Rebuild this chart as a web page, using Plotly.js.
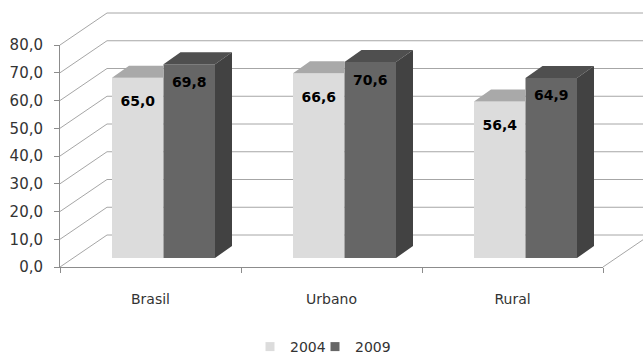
<!DOCTYPE html>
<html>
<head>
<meta charset="utf-8">
<script src="https://cdn.plot.ly/plotly-3.0.1.min.js"></script>
<style>html,body{margin:0;padding:0;background:#fff;}#chart{width:643px;height:356px;}</style>
</head>
<body>
<div id="chart"></div>
<script>
// ---- data ----
const categories = ['Brasil', 'Urbano', 'Rural'];
const seriesNames = ['2004', '2009'];
const values2004 = [65.0, 66.6, 56.4];
const values2009 = [69.8, 70.6, 64.9];
const yTickVals = [0, 10, 20, 30, 40, 50, 60, 70, 80];

// ---- geometry (pixels) ----
const W = 643, H = 356;
const PX0 = 163.5, SX = 181;      // bar plane: category 0 centre, px per category
const PY0 = 258, SY = 2.775;      // bar plane: y of value 0, px per unit
const FX = -13 / SX, FY = -9 / SY;   // front plane offset
const BX = 34 / SX, BY = 23 / SY;    // back wall offset
const DX = 17 / SX, DY = 12 / SY;    // bar depth
const BW = 51.5 / SX;               // bar width (data units)

const idx = categories.map((c, i) => i);
const fmt = v => v.toFixed(1).replace('.', ',');

const colFront04 = '#dcdcdc', colTop04 = '#a9a9a9';
const colFront09 = '#666666', colTop09 = '#4f4f4f', colSide09 = '#424242';
const gridCol = '#a6a6a6', axisCol = '#8c8c8c', textCol = '#333333';
const FONT = 'DejaVu Sans, sans-serif';

// ---- 3D faces built from the values ----
function polys(list) {
  const x = [], y = [];
  list.forEach(p => { p.forEach(pt => { x.push(pt[0]); y.push(pt[1]); }); x.push(null); y.push(null); });
  return {x, y};
}
const top04 = polys(idx.map(i => {
  const v = values2004[i], x0 = i - BW;
  return [[x0, v], [i, v], [i, v + DY], [x0 + DX, v + DY]];
}));
const top09 = polys(idx.map(i => {
  const v = values2009[i], x1 = i + BW;
  return [[i, v], [x1, v], [x1 + DX, v + DY], [i + DX, v + DY]];
}));
const side09 = polys(idx.map(i => {
  const v = values2009[i], x1 = i + BW;
  return [[x1, 0], [x1, v], [x1 + DX, v + DY], [x1 + DX, DY]];
}));
function face(p, col) {
  return {type: 'scatter', mode: 'lines', x: p.x, y: p.y, fill: 'toself', fillcolor: col,
    line: {width: 0, color: col}, showlegend: false, hoverinfo: 'skip', xaxis: 'x', yaxis: 'y'};
}
function legendKey(name, col, lg) {
  return {type: 'scatter', mode: 'markers', name: name, x: [null], y: [null], legend: lg,
    marker: {symbol: 'square', size: 9, color: col}, hoverinfo: 'skip', xaxis: 'x', yaxis: 'y'};
}

const traces = [
  {type: 'bar', name: seriesNames[0], x: idx, y: values2004, marker: {color: colFront04}, hoverinfo: 'skip', showlegend: false, xaxis: 'x', yaxis: 'y'},
  {type: 'bar', name: seriesNames[1], x: idx, y: values2009, marker: {color: colFront09}, hoverinfo: 'skip', showlegend: false, xaxis: 'x', yaxis: 'y'},
  face(top04, colTop04),
  face(top09, colTop09),
  face(side09, colSide09),
  {type: 'scatter', mode: 'text', x: idx.map(i => i - BW / 2), y: values2004.map(v => v - 25 / SY),
   text: values2004.map(fmt), textfont: {family: FONT, size: 14, color: '#000', weight: 'bold'},
   showlegend: false, hoverinfo: 'skip', xaxis: 'x', yaxis: 'y'},
  {type: 'scatter', mode: 'text', x: idx.map(i => i + BW / 2), y: values2009.map(v => v - 19 / SY),
   text: values2009.map(fmt), textfont: {family: FONT, size: 14, color: '#000', weight: 'bold'},
   showlegend: false, hoverinfo: 'skip', xaxis: 'x', yaxis: 'y'},
  legendKey(seriesNames[0], colFront04, 'legend'),
  legendKey(seriesNames[1], colFront09, 'legend2'),
  // front axes (category labels, value ticks)
  {type: 'scatter', mode: 'markers', x: categories, y: categories.map(() => null), marker: {opacity: 0},
   showlegend: false, hoverinfo: 'skip', xaxis: 'x2', yaxis: 'y2'}
];

// ---- walls: gridlines on the left wall and back wall ----
const shapes = [];
const nCat = categories.length;
yTickVals.forEach(v => {
  shapes.push({type: 'line', layer: 'below', xref: 'x', yref: 'y',
    x0: -0.5 + FX, y0: v + FY, x1: -0.5 + BX, y1: v + BY, line: {color: gridCol, width: 1}});
  shapes.push({type: 'line', layer: 'below', xref: 'x', yref: 'y',
    x0: -0.5 + BX, y0: v + BY, x1: nCat - 0.5 + BX, y1: v + BY, line: {color: gridCol, width: 1}});
});
shapes.push({type: 'line', layer: 'below', xref: 'x', yref: 'y',
  x0: nCat - 0.5 + FX, y0: FY, x1: nCat - 0.5 + BX, y1: BY, line: {color: gridCol, width: 1}});

const legendBase = {orientation: 'h', xanchor: 'left', y: 9 / H, yanchor: 'middle',
  font: {family: FONT, size: 14, color: textCol}, itemwidth: 30, bgcolor: 'rgba(0,0,0,0)'};

const layout = {
  width: W, height: H,
  margin: {l: 0, r: 0, t: 0, b: 0, autoexpand: false},
  paper_bgcolor: '#ffffff', plot_bgcolor: 'rgba(0,0,0,0)',
  separators: ',.',
  barmode: 'group', bargap: 1 - 2 * BW, bargroupgap: 0,
  showlegend: true,
  legend: Object.assign({}, legendBase, {x: 250 / W}),
  legend2: Object.assign({}, legendBase, {x: 315 / W}),
  xaxis: {domain: [0, 1], range: [-PX0 / SX, (W - PX0) / SX], visible: false, fixedrange: true},
  yaxis: {domain: [0, 1], range: [(PY0 - H) / SY, PY0 / SY], visible: false, fixedrange: true},
  xaxis2: {domain: [60 / W, 603 / W], anchor: 'y2', type: 'category', categoryarray: categories,
    range: [-0.5, nCat - 0.5], showline: true, linecolor: axisCol, linewidth: 1,
    ticks: 'outside', ticklen: 5, tickcolor: axisCol, tickson: 'boundaries',
    showgrid: false, zeroline: false, ticklabelstandoff: 19,
    tickfont: {family: FONT, size: 14, color: textCol}, fixedrange: true},
  yaxis2: {domain: [(H - 267) / H, (H - 45) / H], anchor: 'x2', range: [0, 80],
    tickvals: yTickVals, tickformat: '.1f', showline: true, linecolor: axisCol, linewidth: 1,
    ticks: 'outside', ticklen: 5, tickcolor: axisCol, showgrid: false, zeroline: false,
    ticklabelstandoff: 8, tickfont: {family: FONT, size: 15, color: textCol}, fixedrange: true},
  shapes: shapes
};

Plotly.newPlot('chart', traces, layout, {displayModeBar: false, staticPlot: true});
</script>
</body>
</html>
